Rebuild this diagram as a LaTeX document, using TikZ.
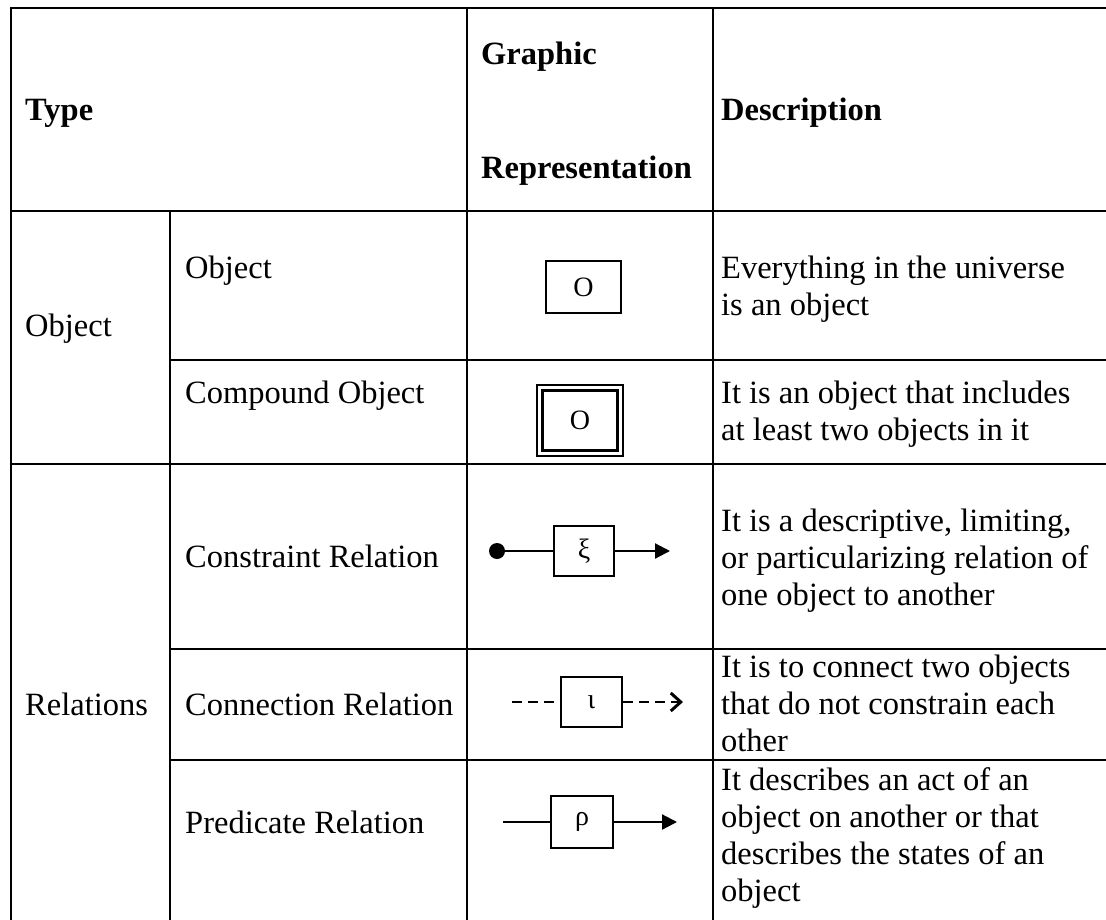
\documentclass[tikz,border=0pt]{standalone}
\usepackage{fontspec}
\setmainfont{Liberation Serif}
\usetikzlibrary{arrows.meta}
\begin{document}
\begin{tikzpicture}[x=1pt,y=-1pt,
  rule/.style={line width=1.8pt, line cap=rect},
  body/.style={font=\fontsize{32.5}{37}\selectfont, inner sep=0pt, align=left},
  label/.style={body, anchor=base west},
  desc/.style={body, anchor=north west},
  head/.style={label, font=\fontsize{32.5}{37}\selectfont\bfseries},
  sym/.style={draw, line width=2pt, inner sep=0pt, font=\fontsize{28}{32}\selectfont},
  wire/.style={line width=2.2pt},
  dashwire/.style={wire, dash pattern=on 10pt off 6pt}]
\useasboundingbox (0,0) rectangle (1106,919);
\clip (0,0) rectangle (1106,919);

% table rules
\draw[rule] (11,8) -- (1112,8);
\draw[rule] (11,211) -- (1112,211);
\draw[rule] (170,360) -- (1112,360);
\draw[rule] (11,464) -- (1112,464);
\draw[rule] (170,649) -- (1112,649);
\draw[rule] (170,760) -- (1112,760);
\draw[rule] (11,8) -- (11,925);
\draw[rule] (170,211) -- (170,925);
\draw[rule] (467,8) -- (467,925);
\draw[rule] (713,8) -- (713,925);

% header
\node[head] (hType) at (25,120) {Type};
\node[head] (hGraphic) at (481,64) {Graphic};
\node[head] (hRep) at (481,178) {Representation};
\node[head] (hDesc) at (721,120) {Description};

% first column
\node[label] (gObject) at (25,336) {Object};
\node[label] (gRelations) at (25,715) {Relations};

% second column
\node[label] (tObject) at (185,278) {Object};
\node[label] (tCompound) at (185,403) {Compound Object};
\node[label] (tConstraint) at (185,567) {Constraint Relation};
\node[label] (tConnection) at (185,715) {Connection Relation};
\node[label] (tPredicate) at (185,833) {Predicate Relation};

% descriptions
\node[desc] (dObject) at (721,256) {Everything in the universe\\is an object};
\node[desc] (dCompound) at (721,381) {It is an object that includes\\at least two objects in it};
\node[desc] (dConstraint) at (721,509) {It is a descriptive, limiting,\\or particularizing relation of\\one object to another};
\node[desc] (dConnection) at (721,655) {It is to connect two objects\\that do not constrain each\\other};
\node[desc] (dPredicate) at (721,767) {It describes an act of an\\object on another or that\\describes the states of an\\object};

% object
\node[sym, minimum width=75pt, minimum height=52pt] (objBox) at (583.5,287) {O};

% compound object
\node[draw, line width=1.8pt, minimum width=86pt, minimum height=71pt, inner sep=0pt] (cmpOuter) at (580,420.5) {};
\node[sym, line width=3.2pt, minimum width=75pt, minimum height=60pt] (cmpInner) at (580,420.5) {O};

% constraint relation
\node[circle, fill, inner sep=0pt, minimum size=16pt] (xiDot) at (497,551) {};
\node[sym, minimum width=60pt, minimum height=50pt] (xiBox) at (584,551) {ξ};
\coordinate (xiTip) at (670,551);
\draw[wire] (xiDot) -- (xiBox);
\draw[wire, -{Triangle[length=15pt, width=15pt]}] (xiBox) -- (xiTip);

% connection relation
\coordinate (iotaStart) at (512,702);
\node[sym, minimum width=61pt, minimum height=50pt] (iotaBox) at (591.5,702) {ι};
\coordinate (iotaTip) at (683,702);
\draw[dashwire] (iotaStart) -- (iotaBox);
\draw[dashwire, -{Straight Barb[length=10pt, width=18pt, line width=3pt]}] (iotaBox) -- (iotaTip);

% predicate relation
\coordinate (rhoStart) at (503,822);
\node[sym, minimum width=62pt, minimum height=52pt] (rhoBox) at (582,822) {ρ};
\coordinate (rhoTip) at (677,822);
\draw[wire] (rhoStart) -- (rhoBox);
\draw[wire, -{Triangle[length=15pt, width=15pt]}] (rhoBox) -- (rhoTip);
\end{tikzpicture}
\end{document}
